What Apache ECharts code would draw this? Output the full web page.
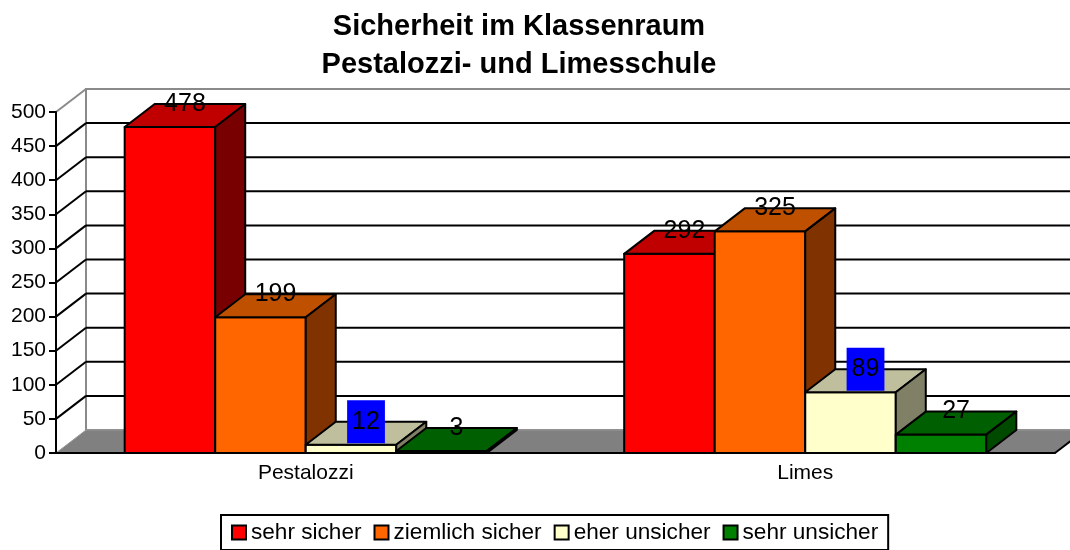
<!DOCTYPE html>
<html>
<head>
<meta charset="utf-8">
<script src="https://cdn.jsdelivr.net/npm/echarts@6/dist/echarts.min.js"></script>
<style>
  html, body { margin: 0; padding: 0; background: #fff; }
  #chart { width: 1070px; height: 550px; }
</style>
</head>
<body>
<div id="chart"></div>
<script>
const categories = ["Pestalozzi", "Limes"];
const series_names = ["sehr sicher", "ziemlich sicher", "eher unsicher", "sehr unsicher"];
const sehr_sicher = [478, 292];
const ziemlich_sicher = [199, 325];
const eher_unsicher = [12, 89];
const sehr_unsicher = [3, 27];
const grid_values = [50, 100, 150, 200, 250, 300, 350, 400, 450, 500];

const FONT = '"Liberation Sans", Arial, sans-serif';
const DX = 30; // depth offset of the 3d box
const DY = 23;
const GROUP_FRAC = 0.725; // share of a category band taken by the 4 bars

const front_colors = ["#ff0000", "#ff6600", "#ffffcc", "#008000"];
const top_colors = ["#c00000", "#bf5000", "#bfbf9e", "#005f00"];
const side_colors = ["#780000", "#803300", "#808066", "#004a00"];

const values = [sehr_sicher, ziemlich_sicher, eher_unsicher, sehr_unsicher];
const edge = { stroke: "#000", lineWidth: 2, lineJoin: "round" };

// back wall, left wall and floor, built from the grid rectangle
function render_walls(params, api) {
    const cs = params.coordSys;
    const x0 = cs.x, x1 = cs.x + cs.width, yt = cs.y, y0 = cs.y + cs.height;
    return {
        type: "group",
        children: [
            { type: "polygon", shape: { points: [[x0, y0], [x0, yt], [x0 + DX, yt - DY], [x0 + DX, y0 - DY]] },
              style: { fill: "#fff" } },
            { type: "rect", shape: { x: x0 + DX, y: yt - DY, width: x1 - x0, height: y0 - yt },
              style: { fill: "#fff", stroke: "#8a8a8a", lineWidth: 2 } },
            { type: "polygon", shape: { points: [[x0, y0], [x0 + DX, y0 - DY], [x1 + DX, y0 - DY], [x1, y0]] },
              style: { fill: "#808080", stroke: "#999", lineWidth: 1 } },
            { type: "line", shape: { x1: x1, y1: y0, x2: x1 + DX, y2: y0 - DY },
              style: { stroke: "#000", lineWidth: 2 } },
        ],
    };
}

// one gridline: diagonal on the side wall + horizontal on the back wall
function render_gridline(params, api) {
    const cs = params.coordSys;
    const x0 = cs.x, x1 = cs.x + cs.width;
    const v = api.value(1);
    const y = api.coord([0, v])[1];
    const col = v === 500 ? "#8a8a8a" : "#000";
    return {
        type: "group",
        children: [
            { type: "line", shape: { x1: x0, y1: y, x2: x0 + DX, y2: y - DY }, style: { stroke: col, lineWidth: 2 } },
            { type: "line", shape: { x1: x0 + DX, y1: y - DY, x2: x1 + DX, y2: y - DY }, style: { stroke: col, lineWidth: 2 } },
        ],
    };
}

function bar_renderer(k) {
    return function (params, api) {
        const cat = api.value(0);
        const val = api.value(1);
        const top = api.coord([cat, val]);
        const base = api.coord([cat, 0]);
        const band = api.size([1, 0])[0];
        const bw = (band * GROUP_FRAC) / 4;
        const x = top[0] - (band * GROUP_FRAC) / 2 + k * bw;
        const yt = top[1], yb = base[1];
        const boxed = k === 2; // "eher unsicher" labels sit on a blue box
        return {
            type: "group",
            children: [
                { type: "rect", shape: { x: x, y: yt, width: bw, height: yb - yt },
                  style: { fill: front_colors[k], ...edge } },
                { type: "polygon", shape: { points: [[x, yt], [x + DX, yt - DY], [x + bw + DX, yt - DY], [x + bw, yt]] },
                  style: { fill: top_colors[k], ...edge } },
                { type: "polygon", shape: { points: [[x + bw, yt], [x + bw + DX, yt - DY], [x + bw + DX, yb - DY], [x + bw, yb]] },
                  style: { fill: side_colors[k], ...edge } },
                { type: "text", z2: 100,
                  style: {
                      text: String(val), x: x + bw / 2 + DX / 2, y: yt - DY,
                      align: "center", verticalAlign: "middle",
                      font: "25px " + FONT, fill: "#000",
                      backgroundColor: boxed ? "#0000ff" : null,
                      padding: boxed ? [9, 5] : 0,
                  } },
            ],
        };
    };
}

const chart = echarts.init(document.getElementById("chart"), null, { renderer: "canvas" });

const series = [
    { type: "custom", name: "walls", renderItem: render_walls, data: [[0, 0]], silent: true, z: 1 },
    { type: "custom", name: "grid", renderItem: render_gridline, data: grid_values.map((v) => [0, v]), silent: true, z: 1 },
];
values.forEach((vals, k) => {
    series.push({
        type: "custom",
        name: series_names[k],
        renderItem: bar_renderer(k),
        data: vals.map((v, i) => [i, v]),
        itemStyle: { color: front_colors[k] },
        z: 2,
    });
});

chart.setOption({
    animation: false,
    textStyle: { fontFamily: FONT },
    title: {
        text: "Sicherheit im Klassenraum\nPestalozzi- und Limesschule",
        left: 514,
        textAlign: "center",
        top: 3,
        textStyle: { fontFamily: FONT, fontSize: 29, fontWeight: "bold", color: "#000", lineHeight: 38 },
    },
    legend: {
        data: series_names,
        left: 221,
        top: 515,
        icon: "rect",
        itemWidth: 14,
        itemHeight: 14,
        itemGap: 12,
        padding: [6, 10],
        borderColor: "#000",
        borderWidth: 2,
        itemStyle: { borderColor: "#000", borderWidth: 2 },
        textStyle: { fontFamily: FONT, fontSize: 22.6, color: "#000" },
    },
    grid: { left: 56, right: 15, top: 112, bottom: 97 },
    xAxis: {
        type: "category",
        data: categories,
        z: 10,
        axisLine: { lineStyle: { color: "#000", width: 2 } },
        axisTick: { length: 6, lineStyle: { color: "#000", width: 2 } },
        axisLabel: { fontFamily: FONT, fontSize: 21, color: "#000", margin: 10 },
    },
    yAxis: {
        type: "value",
        min: 0,
        max: 500,
        interval: 50,
        z: 10,
        splitLine: { show: false },
        axisLine: { show: true, lineStyle: { color: "#000", width: 2 } },
        axisTick: { show: true, length: 7, lineStyle: { color: "#000", width: 2 } },
        axisLabel: { fontFamily: FONT, fontSize: 21, color: "#000", margin: 10 },
    },
    series: series,
});
</script>
</body>
</html>
